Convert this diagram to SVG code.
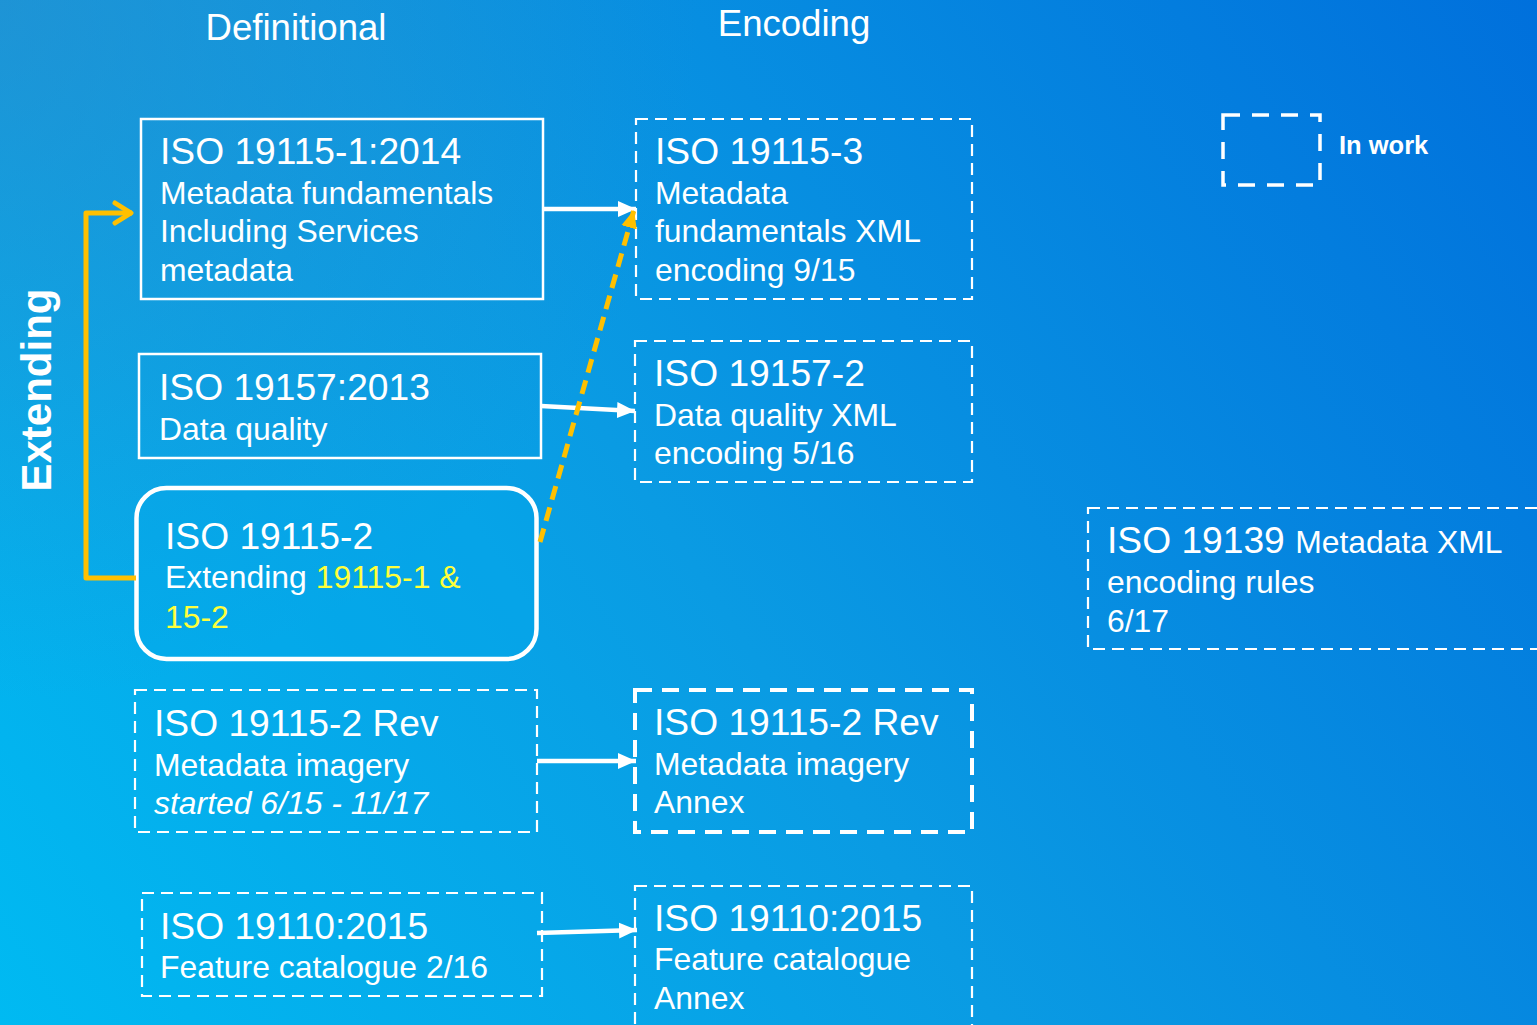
<svg xmlns="http://www.w3.org/2000/svg" width="1537" height="1025" viewBox="0 0 1537 1025">
<defs>
<linearGradient id="bg" x1="0" y1="1025" x2="1537" y2="0" gradientUnits="userSpaceOnUse">
<stop offset="0" stop-color="#00baf2"/>
<stop offset="0.45" stop-color="#0a9be3"/>
<stop offset="1" stop-color="#0070dc"/>
</linearGradient>
<radialGradient id="shade" cx="0" cy="0" r="700" gradientUnits="userSpaceOnUse">
<stop offset="0" stop-color="#3a7fbf" stop-opacity="0.45"/>
<stop offset="1" stop-color="#3a7fbf" stop-opacity="0"/>
</radialGradient>
<marker id="wh" markerUnits="userSpaceOnUse" markerWidth="20" markerHeight="18" refX="18" refY="9" orient="auto">
<path d="M0,1 L18,9 L0,17 Z" fill="#ffffff"/>
</marker>
<marker id="yh" markerUnits="userSpaceOnUse" markerWidth="20" markerHeight="18" refX="18" refY="9" orient="auto">
<path d="M0,1 L18,9 L0,17 Z" fill="#ffc000"/>
</marker>
<marker id="yv" markerUnits="userSpaceOnUse" markerWidth="24" markerHeight="26" refX="20" refY="13" orient="auto">
<path d="M3,3 L19,13 L3,23" fill="none" stroke="#ffc000" stroke-width="5" stroke-linecap="round" stroke-linejoin="round"/>
</marker>
</defs>
<style>
text { font-family: "Liberation Sans", Arial, sans-serif; fill: #ffffff; }
.h { font-size: 37.2px; }
.b { font-size: 31.9px; }
.y { fill: #ffff3a; }
.solid { fill: none; stroke: #ffffff; stroke-width: 2.5; }
.dash { fill: none; stroke: #ffffff; stroke-width: 2.2; stroke-dasharray: 12 7; }
.dashb { fill: none; stroke: #ffffff; stroke-width: 4; stroke-dasharray: 17 10; }
.title { font-size: 36.6px; text-anchor: middle; }
.wline { fill: none; stroke: #ffffff; stroke-width: 4.5; }
</style>
<rect x="0" y="0" width="1537" height="1025" fill="url(#bg)"/>
<rect x="0" y="0" width="1537" height="1025" fill="url(#shade)"/>

<text class="title" x="296" y="40">Definitional</text>
<text class="title" x="794" y="36">Encoding</text>
<text x="51" y="390" transform="rotate(-90 51 390)" font-size="42" font-weight="bold" text-anchor="middle">Extending</text>

<g id="legend">
<rect x="1223" y="115" width="97" height="70" fill="none" stroke="#ffffff" stroke-width="3.5" stroke-dasharray="17 12"/>
<text x="1339" y="154" font-size="25.5" font-weight="bold">In work</text>
</g>

<g id="n-19115-1">
<rect class="solid" x="141" y="119" width="402" height="180"/>
<text class="h" x="160" y="164">ISO 19115-1:2014</text>
<text class="b" x="160" y="204">Metadata fundamentals</text>
<text class="b" x="160" y="242">Including Services</text>
<text class="b" x="160" y="281">metadata</text>
</g>

<g id="n-19157">
<rect class="solid" x="139" y="354" width="402" height="104"/>
<text class="h" x="159" y="400">ISO 19157:2013</text>
<text class="b" x="159" y="440">Data quality</text>
</g>

<g id="n-19115-2">
<rect x="136.5" y="488" width="400" height="171" rx="30" fill="#03a8ec" fill-opacity="0.35" stroke="#ffffff" stroke-width="4.5"/>
<text class="h" x="165" y="549">ISO 19115-2</text>
<text class="b" x="165" y="588">Extending <tspan class="y">19115-1 &amp;</tspan></text>
<text class="b y" x="165" y="628">15-2</text>
</g>

<g id="n-19115-2-rev">
<rect class="dash" x="135" y="690" width="402" height="142"/>
<text class="h" x="154" y="736">ISO 19115-2 Rev</text>
<text class="b" x="154" y="776">Metadata imagery</text>
<text class="b" x="154" y="814" font-style="italic">started 6/15 - 11/17</text>
</g>

<g id="n-19110">
<rect class="dash" x="142" y="893" width="400" height="103"/>
<text class="h" x="160" y="939">ISO 19110:2015</text>
<text class="b" x="160" y="978">Feature catalogue 2/16</text>
</g>

<g id="n-19115-3">
<rect class="dash" x="636" y="119" width="336" height="180"/>
<text class="h" x="655" y="164">ISO 19115-3</text>
<text class="b" x="655" y="204">Metadata</text>
<text class="b" x="655" y="242">fundamentals XML</text>
<text class="b" x="655" y="281">encoding 9/15</text>
</g>

<g id="n-19157-2">
<rect class="dash" x="635" y="341" width="337" height="141"/>
<text class="h" x="654" y="386">ISO 19157-2</text>
<text class="b" x="654" y="426">Data quality XML</text>
<text class="b" x="654" y="464">encoding 5/16</text>
</g>

<g id="n-19115-2-rev-annex">
<rect class="dashb" x="635" y="690" width="337" height="142"/>
<text class="h" x="654" y="735">ISO 19115-2 Rev</text>
<text class="b" x="654" y="775">Metadata imagery</text>
<text class="b" x="654" y="813">Annex</text>
</g>

<g id="n-19110-annex">
<rect class="dash" x="635" y="886" width="337" height="150"/>
<text class="h" x="654" y="931">ISO 19110:2015</text>
<text class="b" x="654" y="970">Feature catalogue</text>
<text class="b" x="654" y="1009">Annex</text>
</g>

<g id="n-19139">
<rect class="dash" x="1088" y="508" width="470" height="141"/>
<text class="h" x="1107" y="553">ISO 19139 <tspan class="b">Metadata XML</tspan></text>
<text class="b" x="1107" y="593">encoding rules</text>
<text class="b" x="1107" y="632">6/17</text>
</g>

<g id="connectors">
<path d="M136,578 L86,578 L86,213 L132,213" fill="none" stroke="#ffc000" stroke-width="5" stroke-linejoin="round" marker-end="url(#yv)"/>
<line class="wline" x1="543" y1="209" x2="636" y2="209" marker-end="url(#wh)"/>
<line class="wline" x1="541" y1="406" x2="635" y2="411" marker-end="url(#wh)"/>
<line class="wline" x1="537" y1="761" x2="636" y2="761" marker-end="url(#wh)"/>
<line class="wline" x1="537" y1="933" x2="637" y2="930" marker-end="url(#wh)"/>
<line x1="540" y1="542" x2="634" y2="210" stroke="#ffc000" stroke-width="5" stroke-dasharray="14 8" marker-end="url(#yh)"/>
</g>
</svg>
